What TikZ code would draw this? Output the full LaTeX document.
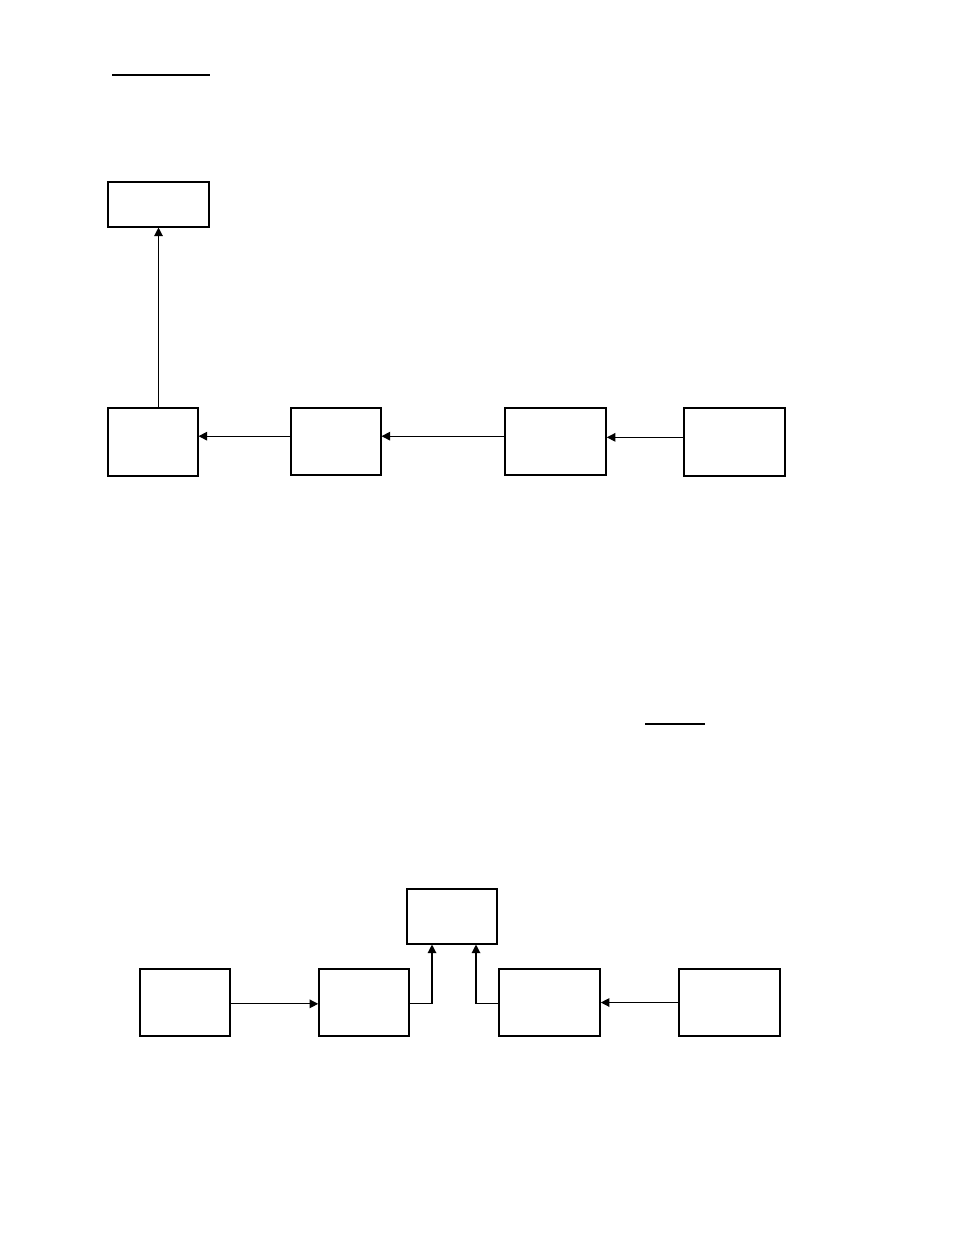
\documentclass[tikz,border=0pt]{standalone}
\usetikzlibrary{arrows.meta}
\begin{document}
\begin{tikzpicture}[x=0.75pt,y=-0.75pt,
  box/.style={draw=black,line width=0.8pt,rectangle,inner sep=0pt,fill=white},
  thickbox/.style={box,line width=1.2pt},
  arr/.style={draw=black,line width=0.9pt,-{Triangle[length=6.5pt,width=6.5pt]}},
  uline/.style={line width=1.6pt}]
\useasboundingbox (0,0) rectangle (954,1235);
% underlines
\coordinate (u1a) at (112,75); \coordinate (u1b) at (210,75);
\draw[uline] (u1a) -- (u1b);
\coordinate (u2a) at (645,724); \coordinate (u2b) at (705,724);
\draw[uline] (u2a) -- (u2b);
% top diagram
\node[box,minimum width=75.75pt,minimum height=33.75pt] (A) at (158.5,204.5) {};
\node[box,minimum width=67.5pt,minimum height=51pt] (B) at (153,442) {};
\node[box,minimum width=67.5pt,minimum height=50.25pt] (C) at (336,441.5) {};
\node[thickbox,minimum width=75.75pt,minimum height=50.25pt] (D) at (555.5,441.5) {};
\node[box,minimum width=75.75pt,minimum height=51pt] (E) at (734.5,442) {};
\draw[arr] (B.north -| A.south) -- (A.south);
\draw[arr] ([yshift=4pt]C.west) -- ([yshift=4pt]C.west -| B.east);
\draw[arr] ([yshift=4pt]D.west) -- ([yshift=4pt]D.west -| C.east);
\draw[arr] ([yshift=3.5pt]E.west) -- ([yshift=3.5pt]E.west -| D.east);
% bottom diagram
\node[box,minimum width=67.5pt,minimum height=41.25pt] (F) at (452,916.5) {};
\node[thickbox,minimum width=67.5pt,minimum height=50.25pt] (G) at (185,1002.5) {};
\node[thickbox,minimum width=67.5pt,minimum height=50.25pt] (H) at (364,1002.5) {};
\node[thickbox,minimum width=75.75pt,minimum height=50.25pt] (I) at (549.5,1002.5) {};
\node[thickbox,minimum width=75.75pt,minimum height=50.25pt] (J) at (729.5,1002.5) {};
\draw[arr] ([yshift=-1pt]G.east) -- ([yshift=-1pt]G.east -| H.west);
\draw[arr] ([yshift=-1pt]H.east) -| ([xshift=-15pt]F.south);
\draw[arr] ([yshift=-1pt]I.west) -| ([xshift=18pt]F.south);
\draw[arr] (J.west) -- (I.east);
\end{tikzpicture}
\end{document}
